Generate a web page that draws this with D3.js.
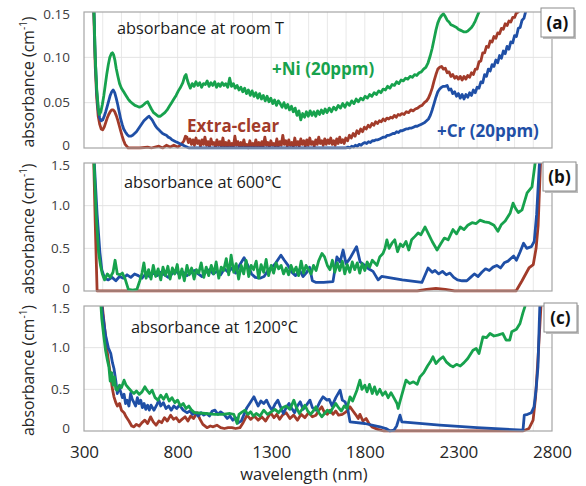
<!DOCTYPE html>
<html>
<head>
<meta charset="utf-8">
<script src="https://cdn.jsdelivr.net/npm/d3@7"></script>
<style>
  body { margin: 0; background: #fff; }
  text { font-family: "Open Sans", sans-serif; }
</style>
</head>
<body>
<div id="chart"></div>
<script>
// ---- data: [wavelength nm, absorbance cm^-1] ----
var xTicks = [300, 800, 1300, 1800, 2300, 2800];
var yTicksA = [0, 0.05, 0.10, 0.15];
var yTicksBC = [0, 0.5, 1.0, 1.5];
var panelTitles = ['absorbance at room T', 'absorbance at 600\u00b0C', 'absorbance at 1200\u00b0C'];
var panelTags = ['(a)', '(b)', '(c)'];
var seriesNames = ['Extra-clear', '+Cr (20ppm)', '+Ni (20ppm)'];

var roomNi = [[345,0.25],[352,0.16],[360,0.10],[368,0.065],[376,0.045],[382,0.037],[390,0.040],[398,0.048],[406,0.058],[414,0.070],[422,0.082],[430,0.092],[438,0.100],[446,0.104],[452,0.105],[458,0.103],[465,0.097],[472,0.088],[480,0.080],[490,0.071],[500,0.066],[512,0.062],[524,0.058],[536,0.054],[548,0.051],[560,0.049],[572,0.047],[584,0.046],[596,0.045],[608,0.046],[620,0.048],[630,0.050],[640,0.051],[650,0.047],[660,0.043],[672,0.039],[684,0.037],[696,0.035],[708,0.035],[720,0.037],[732,0.039],[744,0.042],[756,0.046],[768,0.050],[780,0.054],[792,0.058],[804,0.063],[816,0.067],[828,0.072],[838,0.079],[845,0.081],[852,0.075],[860,0.070],[868,0.066],[878,0.071],[888,0.068],[898,0.073],[908,0.069],[918,0.072],[928,0.067],[938,0.071],[948,0.070],[958,0.074],[968,0.068],[978,0.072],[988,0.069],[998,0.073],[1008,0.067],[1018,0.071],[1028,0.068],[1038,0.072],[1048,0.069],[1058,0.071],[1068,0.067],[1078,0.077],[1088,0.068],[1098,0.071],[1108,0.066],[1118,0.069],[1128,0.064],[1138,0.067],[1148,0.062],[1158,0.066],[1168,0.060],[1178,0.064],[1188,0.058],[1198,0.063],[1208,0.057],[1218,0.061],[1228,0.055],[1238,0.060],[1248,0.054],[1258,0.058],[1268,0.052],[1278,0.057],[1288,0.051],[1298,0.055],[1308,0.049],[1318,0.053],[1328,0.047],[1338,0.052],[1348,0.049],[1358,0.045],[1368,0.050],[1378,0.044],[1388,0.048],[1398,0.042],[1408,0.046],[1418,0.040],[1428,0.044],[1438,0.036],[1448,0.041],[1458,0.031],[1468,0.038],[1478,0.034],[1488,0.040],[1498,0.035],[1508,0.041],[1518,0.036],[1528,0.040],[1538,0.035],[1548,0.041],[1558,0.037],[1568,0.042],[1578,0.038],[1588,0.043],[1598,0.039],[1610,0.044],[1622,0.040],[1634,0.045],[1646,0.042],[1658,0.047],[1670,0.044],[1682,0.049],[1694,0.045],[1706,0.050],[1718,0.047],[1730,0.052],[1742,0.049],[1754,0.054],[1766,0.051],[1778,0.055],[1790,0.053],[1802,0.057],[1814,0.055],[1826,0.059],[1838,0.057],[1850,0.061],[1862,0.059],[1874,0.063],[1886,0.061],[1898,0.065],[1910,0.064],[1922,0.068],[1934,0.066],[1946,0.070],[1958,0.069],[1970,0.073],[1982,0.071],[1994,0.075],[2006,0.074],[2018,0.077],[2030,0.076],[2042,0.079],[2054,0.078],[2066,0.081],[2078,0.080],[2090,0.083],[2102,0.084],[2114,0.087],[2126,0.089],[2138,0.094],[2150,0.102],[2160,0.110],[2170,0.120],[2180,0.130],[2190,0.138],[2200,0.143],[2210,0.146],[2220,0.148],[2230,0.145],[2240,0.141],[2250,0.139],[2260,0.136],[2270,0.135],[2280,0.134],[2290,0.133],[2300,0.131],[2310,0.130],[2320,0.129],[2330,0.128],[2340,0.128],[2350,0.129],[2360,0.131],[2370,0.133],[2380,0.136],[2390,0.140],[2400,0.145],[2410,0.150],[2420,0.156],[2440,0.170]];

var roomClear = [[345,0.25],[352,0.15],[360,0.09],[368,0.055],[376,0.035],[384,0.026],[392,0.021],[400,0.020],[408,0.023],[416,0.028],[424,0.033],[432,0.037],[440,0.040],[448,0.042],[456,0.042],[464,0.040],[472,0.036],[480,0.031],[488,0.025],[496,0.019],[504,0.013],[512,0.008],[520,0.004],[528,0.002],[536,0.000],[600,0.000],[640,0.001],[660,0.000],[700,0.002],[720,0.000],[740,0.003],[760,0.001],[780,0.003],[800,0.001],[820,0.004],[834,0.008],[842,0.013],[850,0.012],[858,0.006],[866,0.010],[874,0.004],[882,0.009],[890,0.003],[898,0.011],[906,0.005],[914,0.008],[922,0.002],[930,0.009],[938,0.004],[946,0.012],[954,0.003],[962,0.007],[970,0.001],[978,0.010],[986,0.004],[994,0.006],[1002,0.001],[1010,0.009],[1018,0.003],[1026,0.007],[1034,0.001],[1042,0.011],[1050,0.002],[1058,0.006],[1066,0.001],[1074,0.008],[1082,0.002],[1090,0.005],[1098,0.001],[1106,0.013],[1114,0.003],[1122,0.007],[1130,0.001],[1138,0.006],[1146,0.002],[1154,0.009],[1162,0.001],[1170,0.004],[1178,0.000],[1186,0.008],[1194,0.002],[1202,0.005],[1210,0.001],[1218,0.009],[1226,0.002],[1234,0.006],[1242,0.001],[1250,0.007],[1258,0.002],[1266,0.012],[1274,0.003],[1282,0.006],[1290,0.001],[1298,0.008],[1306,0.003],[1314,0.005],[1322,0.001],[1330,0.010],[1338,0.002],[1346,0.007],[1354,0.003],[1362,0.014],[1370,0.004],[1378,0.008],[1386,0.002],[1394,0.009],[1402,0.003],[1410,0.006],[1418,0.001],[1426,0.011],[1434,0.003],[1442,0.007],[1450,0.002],[1458,0.010],[1466,0.004],[1474,0.008],[1482,0.002],[1490,0.009],[1498,0.003],[1506,0.011],[1514,0.004],[1522,0.007],[1530,0.002],[1538,0.009],[1546,0.004],[1554,0.012],[1562,0.005],[1570,0.008],[1578,0.003],[1586,0.010],[1594,0.004],[1602,0.009],[1610,0.005],[1618,0.011],[1626,0.004],[1634,0.008],[1642,0.003],[1650,0.010],[1658,0.005],[1666,0.012],[1674,0.006],[1682,0.009],[1690,0.005],[1698,0.011],[1708,0.008],[1718,0.014],[1728,0.011],[1738,0.016],[1748,0.013],[1758,0.019],[1768,0.016],[1778,0.021],[1788,0.018],[1798,0.023],[1808,0.021],[1818,0.025],[1828,0.023],[1838,0.027],[1848,0.025],[1858,0.029],[1868,0.027],[1878,0.030],[1888,0.029],[1898,0.032],[1908,0.030],[1918,0.033],[1928,0.032],[1938,0.034],[1948,0.033],[1958,0.036],[1968,0.034],[1978,0.037],[1988,0.036],[1998,0.038],[2010,0.037],[2022,0.040],[2034,0.039],[2046,0.042],[2058,0.041],[2070,0.043],[2082,0.044],[2094,0.046],[2106,0.047],[2118,0.050],[2130,0.052],[2140,0.055],[2150,0.060],[2160,0.066],[2170,0.074],[2180,0.081],[2190,0.087],[2200,0.089],[2210,0.090],[2220,0.087],[2230,0.088],[2240,0.083],[2250,0.084],[2260,0.079],[2270,0.081],[2280,0.077],[2290,0.079],[2300,0.076],[2310,0.079],[2320,0.075],[2330,0.079],[2340,0.076],[2350,0.080],[2360,0.078],[2370,0.083],[2380,0.081],[2390,0.087],[2400,0.087],[2410,0.095],[2420,0.096],[2430,0.105],[2440,0.105],[2450,0.112],[2460,0.111],[2470,0.118],[2480,0.117],[2490,0.123],[2500,0.121],[2510,0.127],[2520,0.126],[2530,0.132],[2540,0.131],[2550,0.137],[2560,0.135],[2570,0.140],[2580,0.139],[2590,0.144],[2600,0.144],[2610,0.149],[2620,0.150],[2630,0.154],[2650,0.160]];

var roomCr = [[345,0.25],[352,0.16],[360,0.10],[368,0.062],[376,0.042],[384,0.033],[392,0.030],[400,0.031],[408,0.035],[416,0.040],[424,0.046],[432,0.052],[440,0.058],[448,0.062],[456,0.064],[464,0.061],[472,0.055],[480,0.048],[488,0.040],[496,0.032],[504,0.026],[512,0.021],[520,0.018],[530,0.015],[540,0.013],[550,0.013],[560,0.014],[570,0.016],[580,0.018],[590,0.021],[600,0.024],[610,0.027],[620,0.030],[630,0.032],[640,0.034],[648,0.035],[656,0.033],[664,0.031],[672,0.028],[680,0.025],[690,0.022],[700,0.020],[710,0.018],[720,0.016],[730,0.015],[740,0.014],[750,0.012],[760,0.011],[770,0.009],[780,0.008],[790,0.007],[800,0.006],[810,0.005],[820,0.004],[830,0.003],[840,0.002],[850,0.001],[860,0.000],[1700,0.000],[1710,0.001],[1720,0.000],[1730,0.002],[1740,0.001],[1750,0.003],[1760,0.002],[1770,0.004],[1780,0.003],[1790,0.005],[1800,0.006],[1810,0.005],[1820,0.007],[1830,0.006],[1840,0.008],[1850,0.008],[1860,0.009],[1870,0.009],[1880,0.010],[1890,0.011],[1900,0.012],[1910,0.012],[1920,0.014],[1930,0.014],[1940,0.015],[1950,0.016],[1960,0.016],[1970,0.018],[1980,0.017],[1990,0.019],[2000,0.019],[2010,0.020],[2020,0.021],[2030,0.021],[2040,0.022],[2050,0.022],[2060,0.023],[2070,0.024],[2080,0.024],[2090,0.025],[2100,0.026],[2110,0.027],[2120,0.028],[2130,0.030],[2140,0.032],[2150,0.036],[2160,0.042],[2170,0.049],[2180,0.056],[2190,0.062],[2200,0.065],[2210,0.067],[2220,0.068],[2230,0.068],[2240,0.069],[2250,0.064],[2260,0.065],[2270,0.060],[2280,0.062],[2290,0.057],[2300,0.060],[2310,0.055],[2320,0.059],[2330,0.054],[2340,0.059],[2350,0.056],[2360,0.061],[2370,0.058],[2380,0.064],[2390,0.061],[2400,0.067],[2410,0.066],[2420,0.073],[2430,0.072],[2440,0.081],[2450,0.079],[2460,0.087],[2470,0.085],[2480,0.092],[2490,0.090],[2500,0.097],[2510,0.094],[2520,0.102],[2530,0.099],[2540,0.107],[2550,0.104],[2560,0.112],[2570,0.109],[2580,0.117],[2590,0.116],[2600,0.124],[2610,0.123],[2620,0.132],[2630,0.133],[2640,0.141],[2650,0.143],[2660,0.151],[2670,0.155],[2690,0.165]];

var hot600Clear = [[350,1.70],[360,0.80],[370,0.00],[2080,0.00],[2130,0.02],[2180,0.03],[2230,0.02],[2280,0.00],[2608,0.00],[2640,0.12],[2677,0.27],[2700,0.31],[2715,0.50],[2726,0.77],[2742,1.70]];

var hot600Cr = [[350,1.70],[370,0.90],[385,0.45],[395,0.25],[410,0.15],[430,0.13],[450,0.16],[470,0.12],[490,0.17],[510,0.15],[530,0.19],[550,0.16],[570,0.20],[590,0.18],[610,0.15],[630,0.20],[650,0.17],[670,0.21],[690,0.18],[710,0.22],[730,0.19],[750,0.16],[770,0.20],[790,0.24],[810,0.19],[830,0.22],[850,0.18],[870,0.21],[890,0.24],[910,0.20],[930,0.17],[950,0.22],[970,0.25],[990,0.20],[1010,0.23],[1030,0.19],[1050,0.26],[1070,0.22],[1090,0.27],[1110,0.21],[1130,0.30],[1155,0.39],[1175,0.30],[1195,0.20],[1215,0.16],[1240,0.15],[1262,0.17],[1285,0.25],[1305,0.28],[1325,0.33],[1352,0.42],[1370,0.36],[1390,0.30],[1410,0.22],[1430,0.18],[1450,0.25],[1470,0.17],[1490,0.22],[1505,0.28],[1520,0.12],[1540,0.10],[1580,0.10],[1630,0.11],[1651,0.40],[1668,0.34],[1684,0.48],[1700,0.32],[1720,0.38],[1756,0.52],[1775,0.34],[1800,0.30],[1820,0.26],[1844,0.23],[1871,0.13],[1890,0.17],[2000,0.13],[2105,0.10],[2138,0.27],[2160,0.22],[2175,0.24],[2195,0.20],[2215,0.23],[2235,0.19],[2255,0.21],[2275,0.16],[2295,0.13],[2320,0.12],[2345,0.12],[2365,0.16],[2385,0.20],[2405,0.17],[2425,0.22],[2445,0.26],[2465,0.24],[2485,0.28],[2505,0.30],[2525,0.27],[2545,0.33],[2565,0.35],[2580,0.38],[2595,0.41],[2610,0.36],[2630,0.46],[2648,0.56],[2665,0.50],[2690,0.52],[2705,0.58],[2718,0.90],[2728,1.30],[2738,1.70]];

var hot600Ni = [[350,1.70],[365,0.90],[378,0.45],[388,0.30],[398,0.20],[410,0.13],[425,0.20],[440,0.16],[455,0.22],[466,0.36],[478,0.20],[492,0.19],[505,0.21],[520,0.14],[537,0.02],[560,0.01],[583,0.02],[598,0.12],[610,0.21],[620,0.33],[632,0.15],[645,0.25],[658,0.14],[670,0.30],[683,0.17],[696,0.26],[710,0.13],[722,0.28],[735,0.18],[748,0.29],[760,0.14],[772,0.27],[785,0.20],[798,0.31],[810,0.15],[823,0.26],[836,0.12],[850,0.30],[862,0.19],[875,0.27],[888,0.14],[900,0.25],[913,0.21],[926,0.33],[940,0.16],[953,0.28],[966,0.18],[980,0.30],[993,0.20],[1006,0.34],[1020,0.15],[1033,0.28],[1046,0.24],[1060,0.38],[1073,0.19],[1086,0.42],[1100,0.22],[1113,0.32],[1126,0.14],[1140,0.30],[1153,0.20],[1166,0.36],[1180,0.17],[1193,0.30],[1206,0.25],[1220,0.35],[1233,0.15],[1246,0.31],[1260,0.22],[1273,0.37],[1286,0.18],[1300,0.30],[1313,0.21],[1326,0.33],[1340,0.26],[1353,0.30],[1366,0.20],[1380,0.27],[1393,0.19],[1406,0.30],[1420,0.22],[1433,0.28],[1446,0.18],[1460,0.35],[1473,0.21],[1486,0.30],[1500,0.25],[1513,0.20],[1526,0.30],[1540,0.24],[1553,0.35],[1571,0.44],[1585,0.40],[1600,0.30],[1614,0.25],[1627,0.36],[1640,0.22],[1653,0.33],[1666,0.24],[1680,0.35],[1693,0.20],[1706,0.31],[1720,0.22],[1733,0.34],[1746,0.25],[1760,0.33],[1773,0.21],[1786,0.32],[1800,0.24],[1813,0.34],[1826,0.28],[1840,0.36],[1865,0.30],[1880,0.40],[1897,0.44],[1908,0.50],[1918,0.60],[1930,0.50],[1945,0.56],[1960,0.60],[1975,0.46],[1990,0.55],[2004,0.52],[2020,0.58],[2035,0.48],[2050,0.60],[2068,0.64],[2085,0.68],[2100,0.66],[2122,0.75],[2140,0.67],[2160,0.58],[2186,0.48],[2205,0.55],[2225,0.62],[2245,0.60],[2271,0.72],[2290,0.67],[2310,0.75],[2330,0.72],[2350,0.77],[2373,0.80],[2395,0.79],[2415,0.83],[2440,0.81],[2465,0.80],[2490,0.77],[2511,0.70],[2530,0.78],[2550,0.82],[2576,0.91],[2592,1.03],[2605,0.97],[2620,0.92],[2640,0.95],[2667,1.15],[2693,1.22],[2710,1.50],[2720,1.70]];

var hot1200Clear = [[390,1.70],[400,1.45],[412,1.20],[423,0.97],[433,0.80],[443,0.65],[452,0.50],[460,0.41],[470,0.34],[478,0.30],[490,0.33],[500,0.25],[514,0.22],[525,0.17],[540,0.12],[555,0.06],[567,0.05],[580,0.08],[595,0.06],[610,0.10],[625,0.13],[640,0.09],[656,0.17],[670,0.11],[685,0.07],[700,0.12],[715,0.10],[730,0.16],[745,0.12],[763,0.19],[778,0.14],[793,0.16],[808,0.11],[823,0.14],[840,0.17],[855,0.12],[870,0.18],[885,0.15],[904,0.22],[920,0.14],[935,0.08],[957,0.04],[975,0.06],[990,0.05],[1010,0.07],[1030,0.04],[1050,0.03],[1070,0.04],[1090,0.04],[1110,0.03],[1133,0.04],[1150,0.10],[1171,0.19],[1190,0.14],[1210,0.18],[1230,0.13],[1250,0.17],[1270,0.12],[1297,0.22],[1315,0.16],[1330,0.20],[1345,0.14],[1360,0.19],[1380,0.22],[1400,0.15],[1420,0.19],[1440,0.13],[1460,0.20],[1480,0.16],[1500,0.22],[1520,0.17],[1539,0.19],[1555,0.25],[1570,0.29],[1585,0.22],[1600,0.20],[1615,0.25],[1630,0.20],[1645,0.24],[1660,0.19],[1680,0.20],[1700,0.23],[1721,0.29],[1737,0.24],[1750,0.20],[1765,0.15],[1774,0.20],[1790,0.12],[1807,0.15],[1825,0.08],[1838,0.05],[1870,0.02],[1900,0.00],[2645,0.00],[2677,0.03],[2699,0.13],[2712,0.40],[2726,0.90],[2746,1.70]];

var hot1200Cr = [[385,1.70],[400,1.40],[415,1.15],[430,1.00],[443,0.93],[452,0.82],[460,0.75],[470,0.60],[478,0.45],[487,0.53],[496,0.47],[505,0.40],[514,0.44],[522,0.33],[530,0.37],[540,0.30],[549,0.45],[558,0.38],[567,0.34],[576,0.30],[585,0.40],[594,0.33],[603,0.37],[612,0.28],[621,0.33],[630,0.26],[640,0.31],[649,0.25],[658,0.31],[674,0.25],[690,0.32],[700,0.37],[710,0.30],[724,0.34],[738,0.27],[752,0.30],[766,0.25],[780,0.30],[795,0.27],[810,0.31],[830,0.25],[850,0.22],[866,0.24],[880,0.20],[895,0.22],[910,0.18],[925,0.22],[940,0.19],[955,0.21],[970,0.18],[985,0.24],[1000,0.25],[1015,0.20],[1030,0.23],[1048,0.20],[1065,0.15],[1080,0.18],[1095,0.13],[1110,0.16],[1125,0.10],[1140,0.12],[1155,0.20],[1170,0.28],[1185,0.33],[1208,0.41],[1220,0.35],[1230,0.30],[1245,0.36],[1260,0.33],[1275,0.37],[1290,0.30],[1305,0.25],[1320,0.32],[1335,0.37],[1350,0.29],[1365,0.21],[1380,0.28],[1395,0.33],[1410,0.27],[1425,0.22],[1440,0.30],[1455,0.35],[1470,0.26],[1485,0.30],[1507,0.37],[1520,0.28],[1539,0.25],[1560,0.35],[1577,0.41],[1598,0.37],[1610,0.38],[1625,0.30],[1645,0.40],[1668,0.49],[1680,0.37],[1695,0.35],[1710,0.25],[1721,0.11],[1800,0.09],[1881,0.05],[1913,0.03],[1935,0.00],[1955,0.01],[1970,0.06],[1988,0.19],[1998,0.11],[2200,0.07],[2400,0.04],[2645,0.01],[2652,0.19],[2670,0.20],[2690,0.22],[2704,0.29],[2715,0.50],[2725,0.77],[2732,1.30],[2738,1.70]];

var hot1200Ni = [[385,1.70],[395,1.35],[405,1.15],[415,0.97],[425,0.85],[433,0.77],[440,0.60],[448,0.70],[455,0.55],[462,0.65],[470,0.50],[478,0.49],[490,0.55],[500,0.52],[514,0.61],[525,0.55],[540,0.51],[552,0.48],[567,0.45],[580,0.48],[595,0.44],[610,0.47],[625,0.53],[636,0.49],[650,0.45],[664,0.49],[680,0.40],[695,0.37],[710,0.43],[725,0.38],[740,0.44],[755,0.36],[770,0.40],[785,0.34],[800,0.37],[815,0.30],[830,0.33],[845,0.27],[860,0.30],[875,0.25],[890,0.22],[950,0.21],[1000,0.20],[1040,0.20],[1080,0.21],[1100,0.20],[1118,0.09],[1128,0.20],[1140,0.22],[1160,0.25],[1175,0.20],[1190,0.23],[1205,0.18],[1220,0.21],[1240,0.18],[1260,0.25],[1280,0.20],[1300,0.23],[1320,0.26],[1340,0.22],[1360,0.28],[1380,0.30],[1400,0.26],[1421,0.37],[1435,0.28],[1450,0.21],[1465,0.26],[1480,0.31],[1495,0.24],[1510,0.20],[1525,0.24],[1539,0.29],[1555,0.22],[1570,0.17],[1585,0.21],[1600,0.25],[1615,0.22],[1630,0.28],[1645,0.33],[1660,0.28],[1675,0.24],[1690,0.30],[1705,0.27],[1721,0.41],[1735,0.36],[1758,0.49],[1774,0.61],[1785,0.50],[1800,0.55],[1812,0.47],[1825,0.56],[1840,0.45],[1852,0.53],[1865,0.44],[1880,0.50],[1895,0.43],[1910,0.47],[1925,0.40],[1940,0.46],[1955,0.40],[1972,0.33],[1978,0.27],[1990,0.37],[2005,0.49],[2020,0.61],[2040,0.57],[2060,0.59],[2080,0.56],[2095,0.65],[2115,0.70],[2135,0.78],[2150,0.83],[2164,0.89],[2180,0.81],[2200,0.86],[2218,0.89],[2235,0.83],[2255,0.79],[2271,0.77],[2290,0.80],[2310,0.78],[2330,0.82],[2350,0.87],[2378,0.97],[2395,0.99],[2410,0.93],[2431,1.13],[2450,1.12],[2469,1.17],[2490,1.14],[2510,1.15],[2537,1.17],[2555,1.09],[2574,1.09],[2585,1.19],[2610,1.22],[2629,1.29],[2645,1.42],[2655,1.49],[2668,1.70]];

// ---- layout ----
var width = 586, height = 486;
var plotLeft = 84, plotRight = 552;
var colors = {clear: '#a23b2a', cr: '#1f4fa6', ni: '#17a24d'};

var svg = d3.select('#chart').append('svg')
    .attr('width', width)
    .attr('height', height);

var x = d3.scaleLinear()
    .domain([300, 2800])
    .range([plotLeft, plotRight]);

var gridTicks = d3.range(400, 2800, 100);

var panels = [
    {top: 12, bottom: 148, yMax: 0.15, ticks: yTicksA, fmt: d3.format('.2f'),
     series: [[roomClear, colors.clear], [roomCr, colors.cr], [roomNi, colors.ni]],
     titleX: 117, titleY: 34, tagBox: [541, 8]},
    {top: 163, bottom: 291, yMax: 1.5, ticks: yTicksBC, fmt: d3.format('.1f'),
     series: [[hot600Clear, colors.clear], [hot600Cr, colors.cr], [hot600Ni, colors.ni]],
     titleX: 124, titleY: 188, tagBox: [543, 162]},
    {top: 306, bottom: 431, yMax: 1.5, ticks: yTicksBC, fmt: d3.format('.1f'),
     series: [[hot1200Clear, colors.clear], [hot1200Cr, colors.cr], [hot1200Ni, colors.ni]],
     titleX: 131, titleY: 333, tagBox: [544, 303]}
];

panels.forEach(function(p, i) {
    var y = d3.scaleLinear()
        .domain([0, p.yMax])
        .range([p.bottom, p.top]);

    var g = svg.append('g').attr('class', 'panel');

    // grid
    g.selectAll('.vgrid')
        .data(gridTicks)
        .enter().append('line')
        .attr('x1', function(d) { return x(d); })
        .attr('x2', function(d) { return x(d); })
        .attr('y1', p.top)
        .attr('y2', p.bottom)
        .style('stroke', '#e8e8e8')
        .style('stroke-width', 1);

    g.selectAll('.hgrid')
        .data(p.ticks.slice(1, -1))
        .enter().append('line')
        .attr('x1', plotLeft)
        .attr('x2', plotRight)
        .attr('y1', function(d) { return y(d); })
        .attr('y2', function(d) { return y(d); })
        .style('stroke', '#e3e3e3')
        .style('stroke-width', 1);

    // clip to the plot area
    var clipId = 'clip' + i;
    svg.append('clipPath').attr('id', clipId)
        .append('rect')
        .attr('x', plotLeft)
        .attr('y', p.top)
        .attr('width', plotRight - plotLeft)
        .attr('height', p.bottom - p.top + 1.5);

    var line = d3.line()
        .x(function(d) { return x(d[0]); })
        .y(function(d) { return y(d[1]); });

    var lines = g.append('g').attr('clip-path', 'url(#' + clipId + ')');
    p.series.forEach(function(s) {
        lines.append('path')
            .attr('d', line(s[0]))
            .style('fill', 'none')
            .style('stroke', s[1])
            .style('stroke-width', 2.8)
            .style('stroke-linejoin', 'round');
    });

    // frame
    g.append('rect')
        .attr('x', plotLeft)
        .attr('y', p.top)
        .attr('width', plotRight - plotLeft)
        .attr('height', p.bottom - p.top)
        .style('fill', 'none')
        .style('stroke', '#a6a6a6')
        .style('stroke-width', 1.2);

    // y axis labels; the end labels are nudged apart so neighbouring panels don't collide
    var yAxis = d3.axisLeft(y)
        .tickValues(p.ticks)
        .tickSize(0)
        .tickPadding(14)
        .tickFormat(function(d) { return d === 0 ? '0' : p.fmt(d); });

    g.append('g')
        .attr('transform', 'translate(' + plotLeft + ',0)')
        .call(yAxis)
        .call(function(a) { a.select('.domain').remove(); })
        .selectAll('text')
        .attr('dy', function(d) { return d === 0 ? '0.1em' : (d === p.yMax ? '0.5em' : '0.32em'); })
        .style('font-family', '"Open Sans", sans-serif')
        .style('font-size', '13.5px')
        .style('fill', '#404040');

    // y axis title
    g.append('text')
        .attr('transform', 'translate(34,' + ((p.top + p.bottom) / 2 + 2) + ') rotate(-90)')
        .attr('text-anchor', 'middle')
        .style('font-size', '15.8px')
        .style('fill', '#262626')
        .text('absorbance (cm')
        .append('tspan').attr('baseline-shift', 'super').style('font-size', '10px').text('-1')
        .select(function() { return this.parentNode; })
        .append('tspan').text(')');

    // panel title
    g.append('text')
        .attr('x', p.titleX)
        .attr('y', p.titleY)
        .style('font-size', '16.3px')
        .style('fill', '#1a1a1a')
        .text(panelTitles[i]);

    // tag box
    var tag = g.append('g').attr('transform', 'translate(' + p.tagBox[0] + ',' + p.tagBox[1] + ')');
    tag.append('rect')
        .attr('x', 2).attr('y', 2)
        .attr('width', 33).attr('height', 29)
        .style('fill', '#bdbdbd');
    tag.append('rect')
        .attr('width', 33).attr('height', 29)
        .style('fill', '#fff')
        .style('stroke', '#8c8c8c')
        .style('stroke-width', 1);
    tag.append('text')
        .attr('x', 16.5).attr('y', 21)
        .attr('text-anchor', 'middle')
        .style('font-size', '17px')
        .style('font-weight', 'bold')
        .style('fill', '#111')
        .text(panelTags[i]);

    // x axis on the last panel only
    if (i === panels.length - 1) {
        var xAxis = d3.axisBottom(x)
            .tickValues(xTicks)
            .tickSize(0)
            .tickPadding(15)
            .tickFormat(d3.format('d'));

        g.append('g')
            .attr('transform', 'translate(0,' + p.bottom + ')')
            .call(xAxis)
            .call(function(a) { a.select('.domain').remove(); })
            .selectAll('text')
            .style('font-family', '"Open Sans", sans-serif')
            .style('font-size', '17px')
            .style('fill', '#262626');
    }
});

// series labels in panel (a)
var seriesLabels = [
    {text: seriesNames[2], color: colors.ni, x: 272, y: 75},
    {text: seriesNames[0], color: colors.clear, x: 187, y: 132},
    {text: seriesNames[1], color: colors.cr, x: 437, y: 137}
];
svg.selectAll('.series-label')
    .data(seriesLabels)
    .enter().append('text')
    .attr('class', 'series-label')
    .attr('x', function(d) { return d.x; })
    .attr('y', function(d) { return d.y; })
    .style('font-size', '17px')
    .style('font-weight', 'bold')
    .style('fill', function(d) { return d.color; })
    .text(function(d) { return d.text; });

// x axis title
svg.append('text')
    .attr('x', 304)
    .attr('y', 480)
    .attr('text-anchor', 'middle')
    .style('font-size', '16.5px')
    .style('fill', '#262626')
    .text('wavelength (nm)');
</script>
</body>
</html>
